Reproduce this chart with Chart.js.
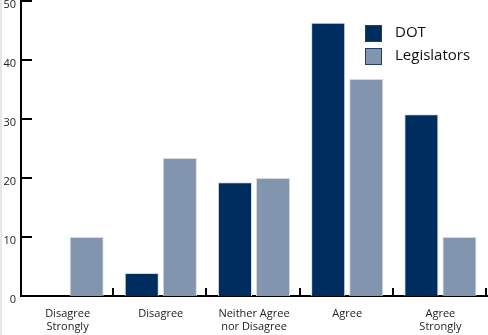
<!DOCTYPE html>
<html lang="en">
<head>
    <meta charset="UTF-8">
    <title>DOT vs Legislators</title>
    <script src="https://cdn.jsdelivr.net/npm/chart.js"></script>
    <style>
        body { margin: 0; background: #fff; }
        .wrap { width: 486px; height: 335px; border-left: 2px solid #e3e8ee; }
    </style>
</head>
<body>
    <div class="wrap"><canvas id="surveyChart" width="486" height="335"></canvas></div>
    <script>
        const categories = [['Disagree', 'Strongly'], 'Disagree', ['Neither Agree', 'nor Disagree'], 'Agree', ['Agree', 'Strongly']];
        const dotValues = [0, 3.9, 19.3, 46.3, 30.8];
        const legislatorValues = [10, 23.4, 20, 36.8, 10];
        const yTicks = [0, 10, 20, 30, 40, 50];

        const FONT = '"Open Sans", "Noto Sans", sans-serif';

        // short tick marks inside the plot + the legend box on the right
        const decorations = {
            id: 'decorations',
            afterDraw(chart) {
                const ctx = chart.ctx;
                const x = chart.scales.x, y = chart.scales.y;
                const area = chart.chartArea;
                ctx.save();
                ctx.strokeStyle = '#000';
                ctx.lineWidth = 2;
                yTicks.forEach(v => {
                    const py = Math.round(y.getPixelForValue(v));
                    ctx.beginPath();
                    ctx.moveTo(area.left, py);
                    ctx.lineTo(area.left + 11, py);
                    ctx.stroke();
                });
                const step = x.width / categories.length;
                for (let i = 1; i <= categories.length; i++) {
                    const px = Math.round(area.left + step * i) - 1;
                    ctx.beginPath();
                    ctx.moveTo(px, area.bottom);
                    ctx.lineTo(px, area.bottom - 8);
                    ctx.stroke();
                }

                // legend
                ctx.font = '15px ' + FONT;
                ctx.textBaseline = 'middle';
                chart.data.datasets.forEach((ds, i) => {
                    const top = 25 + i * 23;
                    ctx.fillStyle = ds.backgroundColor;
                    ctx.fillRect(363, top, 17, 17);
                    ctx.strokeStyle = '#1f3d6b';
                    ctx.lineWidth = 1;
                    ctx.strokeRect(363.5, top + 0.5, 16, 16);
                    ctx.fillStyle = '#111';
                    ctx.fillText(ds.label, 393, top + 8);
                });
                ctx.restore();
            }
        };

        new Chart(document.getElementById('surveyChart'), {
            type: 'bar',
            data: {
                labels: categories,
                datasets: [
                    {
                        label: 'DOT',
                        data: dotValues,
                        backgroundColor: '#002d5f',
                        borderColor: '#d6d9de',
                        borderWidth: 1
                    },
                    {
                        label: 'Legislators',
                        data: legislatorValues,
                        backgroundColor: '#8196ae',
                        borderColor: '#d6d9de',
                        borderWidth: 1
                    }
                ]
            },
            options: {
                responsive: false,
                animation: false,
                layout: { padding: { top: 1, right: 1, left: 0, bottom: 0 } },
                categoryPercentage: 0.817,
                barPercentage: 0.895,
                plugins: {
                    legend: { display: false },
                    tooltip: { enabled: false }
                },
                scales: {
                    x: {
                        grid: { display: false, drawTicks: false },
                        border: { display: true, color: '#000', width: 2 },
                        ticks: {
                            color: '#222',
                            font: { family: FONT, size: 11 },
                            padding: 11,
                            maxRotation: 0,
                            autoSkip: false
                        },
                        afterFit(scale) { scale.height = 39; }
                    },
                    y: {
                        min: 0,
                        max: 50,
                        grid: { display: false, drawTicks: false },
                        border: { display: true, color: '#000', width: 2 },
                        afterBuildTicks(scale) {
                            scale.ticks = yTicks.map(v => ({ value: v }));
                        },
                        ticks: {
                            color: '#222',
                            font: { family: FONT, size: 11 },
                            padding: 5,
                            labelOffset: 4
                        },
                        afterFit(scale) {
                            scale.width = 19;
                            scale.paddingTop = 0;
                            scale.paddingBottom = 0;
                        }
                    }
                }
            },
            plugins: [decorations]
        });
    </script>
</body>
</html>
